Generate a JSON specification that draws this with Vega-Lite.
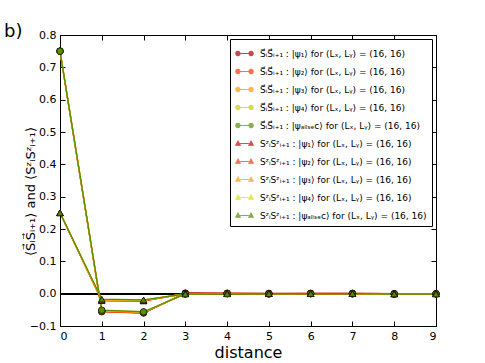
{
  "$schema": "https://vega.github.io/schema/vega-lite/v6.json",
  "autosize": "none",
  "width": 376,
  "height": 291,
  "padding": {"left": 60, "top": 35, "right": 49, "bottom": 37},
  "background": "white",
  "title": {"text": "b)", "anchor": "start", "frame": "group", "dx": -56, "dy": 16, "offset": 4, "fontSize": 18, "fontWeight": "normal", "font": "DejaVu Sans", "color": "black"},
  "config": {
    "view": {"stroke": "black", "strokeWidth": 1},
    "axis": {"domain": false, "tickColor": "black", "tickSize": -5, "labelPadding": 9, "labelFont": "DejaVu Sans", "labelFontSize": 11, "labelColor": "black", "titleFont": "DejaVu Sans", "titleColor": "black", "titleFontWeight": "normal", "grid": false},
    "legend": {"orient": "top-right", "offset": 4, "padding": 5, "strokeColor": "black", "fillColor": "white", "labelFont": "DejaVu Sans", "labelFontSize": 9, "labelColor": "black", "symbolSize": 300, "rowPadding": 3, "labelOffset": 6, "labelLimit": 300}
  },
  "data": {"values": [
    {"s":"c1","d":0,"v":0.75},{"s":"c1","d":1,"v":-0.055},{"s":"c1","d":2,"v":-0.06},{"s":"c1","d":3,"v":0.002},{"s":"c1","d":4,"v":0.001},{"s":"c1","d":5,"v":0.001},{"s":"c1","d":6,"v":0.001},{"s":"c1","d":7,"v":0.001},{"s":"c1","d":8,"v":0.0},{"s":"c1","d":9,"v":0.0},
    {"s":"c2","d":0,"v":0.75},{"s":"c2","d":1,"v":-0.056},{"s":"c2","d":2,"v":-0.059},{"s":"c2","d":3,"v":0.001},{"s":"c2","d":4,"v":0.001},{"s":"c2","d":5,"v":0.0},{"s":"c2","d":6,"v":0.001},{"s":"c2","d":7,"v":0.001},{"s":"c2","d":8,"v":0.0},{"s":"c2","d":9,"v":0.0},
    {"s":"c3","d":0,"v":0.75},{"s":"c3","d":1,"v":-0.054},{"s":"c3","d":2,"v":-0.058},{"s":"c3","d":3,"v":0.0},{"s":"c3","d":4,"v":0.001},{"s":"c3","d":5,"v":0.0},{"s":"c3","d":6,"v":0.0},{"s":"c3","d":7,"v":0.0},{"s":"c3","d":8,"v":-0.001},{"s":"c3","d":9,"v":0.0},
    {"s":"c4","d":0,"v":0.75},{"s":"c4","d":1,"v":-0.052},{"s":"c4","d":2,"v":-0.057},{"s":"c4","d":3,"v":-0.001},{"s":"c4","d":4,"v":0.0},{"s":"c4","d":5,"v":-0.001},{"s":"c4","d":6,"v":0.0},{"s":"c4","d":7,"v":0.0},{"s":"c4","d":8,"v":-0.002},{"s":"c4","d":9,"v":-0.001},
    {"s":"c5","d":0,"v":0.75},{"s":"c5","d":1,"v":-0.051},{"s":"c5","d":2,"v":-0.056},{"s":"c5","d":3,"v":-0.001},{"s":"c5","d":4,"v":0.0},{"s":"c5","d":5,"v":-0.001},{"s":"c5","d":6,"v":0.0},{"s":"c5","d":7,"v":-0.001},{"s":"c5","d":8,"v":-0.001},{"s":"c5","d":9,"v":-0.001},
    {"s":"t1","d":0,"v":0.25},{"s":"t1","d":1,"v":-0.021},{"s":"t1","d":2,"v":-0.022},{"s":"t1","d":3,"v":0.001},{"s":"t1","d":4,"v":0.001},{"s":"t1","d":5,"v":0.0},{"s":"t1","d":6,"v":0.0},{"s":"t1","d":7,"v":0.0},{"s":"t1","d":8,"v":0.0},{"s":"t1","d":9,"v":0.0},
    {"s":"t2","d":0,"v":0.25},{"s":"t2","d":1,"v":-0.022},{"s":"t2","d":2,"v":-0.023},{"s":"t2","d":3,"v":0.0},{"s":"t2","d":4,"v":0.0},{"s":"t2","d":5,"v":0.0},{"s":"t2","d":6,"v":0.0},{"s":"t2","d":7,"v":0.0},{"s":"t2","d":8,"v":0.0},{"s":"t2","d":9,"v":0.0},
    {"s":"t3","d":0,"v":0.25},{"s":"t3","d":1,"v":-0.02},{"s":"t3","d":2,"v":-0.021},{"s":"t3","d":3,"v":0.0},{"s":"t3","d":4,"v":0.0},{"s":"t3","d":5,"v":0.0},{"s":"t3","d":6,"v":0.0},{"s":"t3","d":7,"v":0.0},{"s":"t3","d":8,"v":-0.001},{"s":"t3","d":9,"v":0.0},
    {"s":"t4","d":0,"v":0.25},{"s":"t4","d":1,"v":-0.018},{"s":"t4","d":2,"v":-0.02},{"s":"t4","d":3,"v":-0.001},{"s":"t4","d":4,"v":0.0},{"s":"t4","d":5,"v":0.0},{"s":"t4","d":6,"v":0.0},{"s":"t4","d":7,"v":0.0},{"s":"t4","d":8,"v":-0.001},{"s":"t4","d":9,"v":-0.001},
    {"s":"t5","d":0,"v":0.25},{"s":"t5","d":1,"v":-0.017},{"s":"t5","d":2,"v":-0.019},{"s":"t5","d":3,"v":-0.001},{"s":"t5","d":4,"v":-0.001},{"s":"t5","d":5,"v":0.0},{"s":"t5","d":6,"v":0.0},{"s":"t5","d":7,"v":0.0},{"s":"t5","d":8,"v":-0.001},{"s":"t5","d":9,"v":-0.001}
  ]},
  "resolve": {"axis": {"x": "independent", "y": "independent"}},
  "layer": [
    {
      "mark": {"type": "rule", "color": "black", "strokeWidth": 1.2},
      "encoding": {"y": {"datum": 0, "type": "quantitative", "axis": null}}
    },
    {
      "mark": {"type": "line", "strokeWidth": 1.3},
      "encoding": {
        "x": {"field": "d", "type": "quantitative", "scale": {"domain": [0, 9], "nice": false}, "axis": null},
        "y": {"field": "v", "type": "quantitative", "scale": {"domain": [-0.1, 0.8], "nice": false, "zero": false}, "axis": null},
        "color": {"field": "s", "type": "nominal",
          "scale": {"domain": ["c1","c2","c3","c4","c5","t1","t2","t3","t4","t5"], "range": ["#a80000","#ff3300","#ff9900","#cccc00","#5a9000","#cc0000","#ee3a10","#ff9a10","#dcdc00","#558800"]}}
      }
    },
    {
      "transform": [{"filter": "indexof(datum.s,'c')==0"}],
      "mark": {"type": "point", "shape": "circle", "filled": true, "size": 42, "stroke": "black", "strokeWidth": 0.6, "opacity": 1},
      "encoding": {
        "x": {"field": "d", "type": "quantitative", "axis": {"values": [0,1,2,3,4,5,6,7,8,9], "title": "distance", "titleFontSize": 16, "titlePadding": 3, "orient": "bottom"}},
        "y": {"field": "v", "type": "quantitative", "axis": {"values": [-0.1,0,0.1,0.2,0.3,0.4,0.5,0.6,0.7,0.8], "format": ".1f", "title": "⟨S⃗ᵢS⃗ᵢ₊₁⟩ and ⟨SᶻᵢSᶻᵢ₊₁⟩", "titleFontSize": 13, "titleX": -30, "titleY": 156, "titleAlign": "center", "titleBaseline": "middle", "orient": "left"}},
        "fill": {"field": "s", "type": "nominal", "legend": null,
          "scale": {"domain": ["c1","c2","c3","c4","c5","t1","t2","t3","t4","t5"], "range": ["#a80000","#ff3300","#ff9900","#cccc00","#5a9000","#cc0000","#ee3a10","#ff9a10","#dcdc00","#558800"]}}
      }
    },
    {
      "transform": [{"filter": "indexof(datum.s,'t')==0"}],
      "mark": {"type": "point", "shape": "triangle-up", "filled": true, "size": 42, "stroke": "black", "strokeWidth": 0.6, "opacity": 1},
      "encoding": {
        "x": {"field": "d", "type": "quantitative", "axis": {"values": [0,1,2,3,4,5,6,7,8,9], "labels": false, "title": null, "orient": "top"}},
        "y": {"field": "v", "type": "quantitative", "axis": {"values": [-0.1,0,0.1,0.2,0.3,0.4,0.5,0.6,0.7,0.8], "labels": false, "title": null, "orient": "right"}},
        "fill": {"field": "s", "type": "nominal", "legend": null}
      }
    },
    {
      "transform": [{"filter": "datum.d < 0"}],
      "mark": {"type": "point", "filled": true},
      "encoding": {
        "x": {"field": "d", "type": "quantitative", "axis": null},
        "y": {"field": "v", "type": "quantitative", "axis": null},
        "color": {"field": "s", "type": "nominal",
          "legend": {"title": null,
            "labelExpr": "['S⃗ᵢS⃗ᵢ₊₁ : |ψ₁⟩ for (Lₓ, Lᵧ) = (16, 16)','S⃗ᵢS⃗ᵢ₊₁ : |ψ₂⟩ for (Lₓ, Lᵧ) = (16, 16)','S⃗ᵢS⃗ᵢ₊₁ : |ψ₃⟩ for (Lₓ, Lᵧ) = (16, 16)','S⃗ᵢS⃗ᵢ₊₁ : |ψ₄⟩ for (Lₓ, Lᵧ) = (16, 16)','S⃗ᵢS⃗ᵢ₊₁ : |ψₐₗₗₛₑc⟩ for (Lₓ, Lᵧ) = (16, 16)','SᶻᵢSᶻᵢ₊₁ : |ψ₁⟩ for (Lₓ, Lᵧ) = (16, 16)','SᶻᵢSᶻᵢ₊₁ : |ψ₂⟩ for (Lₓ, Lᵧ) = (16, 16)','SᶻᵢSᶻᵢ₊₁ : |ψ₃⟩ for (Lₓ, Lᵧ) = (16, 16)','SᶻᵢSᶻᵢ₊₁ : |ψ₄⟩ for (Lₓ, Lᵧ) = (16, 16)','SᶻᵢSᶻᵢ₊₁ : |ψₐₗₗₛₑc⟩ for (Lₓ, Lᵧ) = (16, 16)'][indexof(['c1','c2','c3','c4','c5','t1','t2','t3','t4','t5'], datum.value)]",
            "symbolStrokeColor": {"expr": "scale('color', datum.value)"},
            "symbolStrokeWidth": 1.2,
            "encode": {"symbols": {
              "stroke": {"value": {"expr": "scale('color', datum.value)"}},
              "strokeWidth": {"value": 1.2},
              "opacity": {"value": 1}
            }}
          }
        },
        "shape": {"field": "s", "type": "nominal",
          "scale": {"domain": ["c1","c2","c3","c4","c5","t1","t2","t3","t4","t5"], "range": [
            "M-1,0A0.24,0.24 0 1,0 -0.52,0A0.24,0.24 0 1,0 -1,0ZM0.52,0A0.24,0.24 0 1,0 1,0A0.24,0.24 0 1,0 0.52,0ZM-0.52,0L0.52,0",
            "M-1,0A0.24,0.24 0 1,0 -0.52,0A0.24,0.24 0 1,0 -1,0ZM0.52,0A0.24,0.24 0 1,0 1,0A0.24,0.24 0 1,0 0.52,0ZM-0.52,0L0.52,0",
            "M-1,0A0.24,0.24 0 1,0 -0.52,0A0.24,0.24 0 1,0 -1,0ZM0.52,0A0.24,0.24 0 1,0 1,0A0.24,0.24 0 1,0 0.52,0ZM-0.52,0L0.52,0",
            "M-1,0A0.24,0.24 0 1,0 -0.52,0A0.24,0.24 0 1,0 -1,0ZM0.52,0A0.24,0.24 0 1,0 1,0A0.24,0.24 0 1,0 0.52,0ZM-0.52,0L0.52,0",
            "M-1,0A0.24,0.24 0 1,0 -0.52,0A0.24,0.24 0 1,0 -1,0ZM0.52,0A0.24,0.24 0 1,0 1,0A0.24,0.24 0 1,0 0.52,0ZM-0.52,0L0.52,0",
            "M-1,0.2L-0.75,-0.26L-0.5,0.2ZM0.5,0.2L0.75,-0.26L1,0.2ZM-0.5,0L0.5,0",
            "M-1,0.2L-0.75,-0.26L-0.5,0.2ZM0.5,0.2L0.75,-0.26L1,0.2ZM-0.5,0L0.5,0",
            "M-1,0.2L-0.75,-0.26L-0.5,0.2ZM0.5,0.2L0.75,-0.26L1,0.2ZM-0.5,0L0.5,0",
            "M-1,0.2L-0.75,-0.26L-0.5,0.2ZM0.5,0.2L0.75,-0.26L1,0.2ZM-0.5,0L0.5,0",
            "M-1,0.2L-0.75,-0.26L-0.5,0.2ZM0.5,0.2L0.75,-0.26L1,0.2ZM-0.5,0L0.5,0"]}}
      }
    }
  ]
}
